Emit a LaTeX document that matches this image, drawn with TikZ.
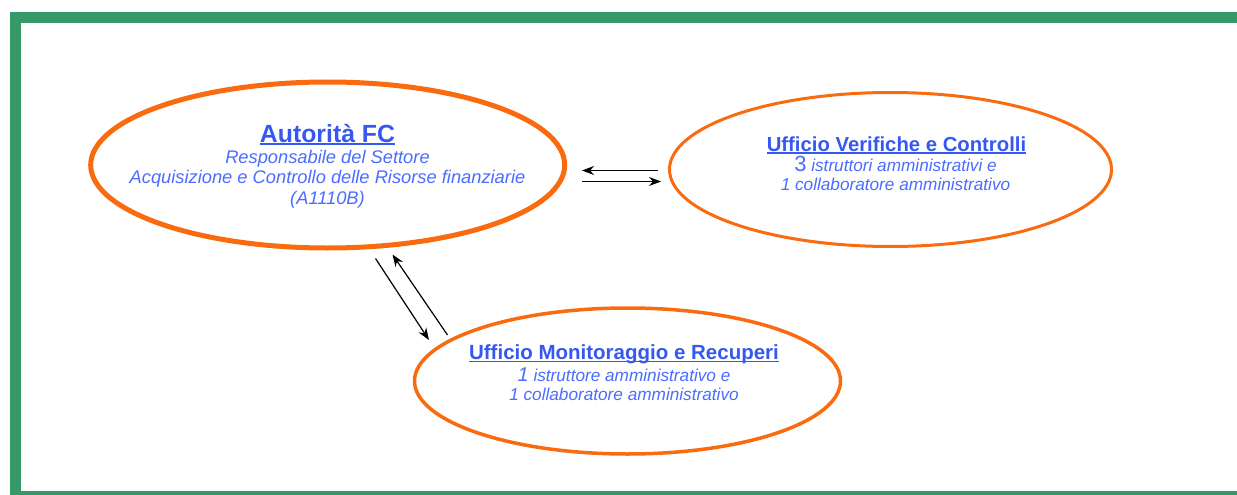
\documentclass[tikz,border=0pt]{standalone}
\usepackage{fontspec}
\setmainfont{Liberation Sans}
\usetikzlibrary{shapes.geometric,arrows.meta}

\definecolor{framegreen}{HTML}{35996A}
\definecolor{ringorange}{HTML}{FA6A0E}
\definecolor{headblue}{HTML}{3658F2}
\definecolor{bodyblue}{HTML}{4A6CFF}

% underline drawn as a rule sized for large text
\newcommand\headline[1]{\setbox0\hbox{#1}\rlap{\rule[-2.6pt]{\wd0}{1.5pt}}\box0}

\tikzset{
  unit/.style={ellipse, draw=ringorange, inner sep=0pt},
  head/.style={anchor=base, text=headblue, inner sep=0pt},
  body/.style={anchor=base, text=bodyblue, inner sep=0pt},
  flow/.style={draw=black, line width=1.2pt, -{Stealth[length=12pt,width=9pt]}},
}

\begin{document}
\begin{tikzpicture}[x=1pt,y=-1pt]
  \clip (0,0) rectangle (1237,495);

  % outer frame
  \draw[framegreen, line width=11pt] (15,17.5) rectangle (1260,496.5);

  % units
  \node[unit, line width=5pt, minimum width=474pt, minimum height=166pt] (afc) at (327.7,165) {};
  \node[unit, line width=3pt, minimum width=442pt, minimum height=154pt] (uvc) at (890.5,169.5) {};
  \node[unit, line width=3.5pt, minimum width=426pt, minimum height=146pt] (umr) at (627.5,381) {};

  % texts of the first unit
  \node[head, font=\bfseries\fontsize{24.8}{28}\selectfont] (afct) at (327.5,142) {\headline{Autorità FC}};
  \node[body, font=\itshape\fontsize{18.3}{21}\selectfont] (afc1) at (327.5,163) {Responsabile del Settore};
  \node[body, font=\itshape\fontsize{18.3}{21}\selectfont] (afc2) at (327.5,183.5) {Acquisizione e Controllo delle Risorse finanziarie};
  \node[body, font=\itshape\fontsize{18.3}{21}\selectfont] (afc3) at (327.5,204) {(A1110B)};

  % texts of the second unit
  \node[head, font=\bfseries\fontsize{20.3}{24}\selectfont] (uvct) at (896.5,151) {\headline{Ufficio Verifiche e Controlli}};
  \node[body, font=\fontsize{17.2}{20}\selectfont] (uvc1) at (895.5,171.5) {{\fontsize{22}{24}\selectfont 3} \textit{istruttori amministrativi e}};
  \node[body, font=\itshape\fontsize{17.2}{20}\selectfont] (uvc2) at (895.5,190.5) {1 collaboratore amministrativo};

  % texts of the third unit
  \node[head, font=\bfseries\fontsize{20.5}{24}\selectfont] (umrt) at (624,359.5) {\headline{Ufficio Monitoraggio e Recuperi}};
  \node[body, font=\fontsize{17.2}{20}\selectfont] (umr1) at (624,381.5) {{\fontsize{20}{22}\selectfont\itshape 1} \textit{istruttore amministrativo e}};
  \node[body, font=\itshape\fontsize{17.2}{20}\selectfont] (umr2) at (624,400.5) {1 collaboratore amministrativo};

  % arrow end points
  \coordinate (h1s) at (658,170.5);
  \coordinate (h1e) at (582,170.5);
  \coordinate (h2s) at (582,181.5);
  \coordinate (h2e) at (661,181.5);
  \coordinate (d1s) at (375.5,258.5);
  \coordinate (d1e) at (429,340);
  \coordinate (d2s) at (447.5,335);
  \coordinate (d2e) at (392.5,254.5);

  \draw[flow] (h1s) -- (h1e);
  \draw[flow] (h2s) -- (h2e);
  \draw[flow] (d1s) -- (d1e);
  \draw[flow] (d2s) -- (d2e);
\end{tikzpicture}
\end{document}
